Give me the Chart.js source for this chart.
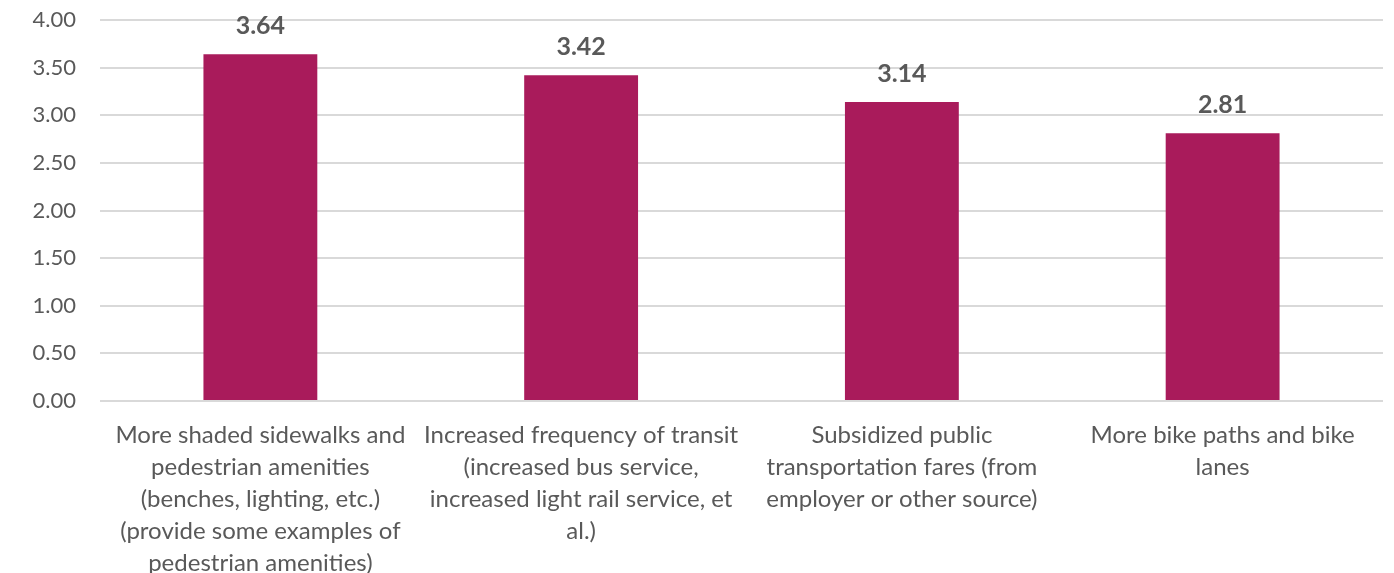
<!DOCTYPE html>
<html>
<head>
<meta charset="utf-8">
<script src="https://cdn.jsdelivr.net/npm/chart.js@4/dist/chart.umd.min.js"></script>
<style>
  html, body { margin: 0; padding: 0; background: #fff; }
  #wrap { width: 1394px; height: 573px; position: relative; }
</style>
</head>
<body>
<div id="wrap"><canvas id="c" width="1394" height="573"></canvas></div>
<script>
const categories = [
  ["More shaded sidewalks and", "pedestrian amenities", "(benches, lighting, etc.)", "(provide some examples of", "pedestrian amenities)"],
  ["Increased frequency of transit", "(increased bus service,", "increased light rail service, et", "al.)"],
  ["Subsidized public", "transportation fares (from", "employer or other source)"],
  ["More bike paths and bike", "lanes"]
];
const values = [3.64, 3.42, 3.14, 2.81];
const yTicks = [0, 0.5, 1, 1.5, 2, 2.5, 3, 3.5, 4];

const FONT = "Lato, 'Open Sans', sans-serif";
const TEXT = '#595959';

const valueLabels = {
  id: 'valueLabels',
  afterDatasetsDraw(chart) {
    const ctx = chart.ctx;
    const meta = chart.getDatasetMeta(0);
    ctx.save();
    ctx.font = 'bold 25px ' + FONT;
    ctx.fillStyle = TEXT;
    ctx.textAlign = 'center';
    ctx.textBaseline = 'middle';
    meta.data.forEach((bar, i) => {
      ctx.fillText(values[i].toFixed(2), bar.x, bar.y - 28);
    });
    ctx.restore();
  }
};

new Chart(document.getElementById('c'), {
  type: 'bar',
  data: {
    labels: categories,
    datasets: [{
      data: values,
      backgroundColor: '#A91B5B',
      barPercentage: 1,
      categoryPercentage: 0.355
    }]
  },
  options: {
    responsive: false,
    animation: false,
    layout: { padding: { top: 20, right: 11, bottom: 0, left: 0 } },
    plugins: { legend: { display: false }, tooltip: { enabled: false } },
    scales: {
      x: {
        grid: { display: false, drawTicks: false },
        border: { display: false },
        ticks: {
          color: TEXT,
          font: { family: FONT, size: 24, lineHeight: '32px' },
          padding: 18,
          maxRotation: 0,
          autoSkip: false
        },
        afterFit(scale) {
          scale.height = 172;
          scale.paddingLeft = 0; scale.paddingRight = 0;
          scale.paddingTop = 0; scale.paddingBottom = 0;
        }
      },
      y: {
        min: 0,
        max: 4,
        afterBuildTicks(scale) { scale.ticks = yTicks.map(v => ({ value: v })); },
        grid: { color: '#D9D9D9', lineWidth: 2, drawTicks: false },
        border: { display: false },
        ticks: {
          color: TEXT,
          font: { family: FONT, size: 22 },
          padding: 24,
          callback: v => Number(v).toFixed(2)
        },
        afterFit(scale) {
          scale.width = 100;
          scale.paddingTop = 0; scale.paddingBottom = 0;
          scale.paddingLeft = 0; scale.paddingRight = 0;
        }
      }
    }
  },
  plugins: [valueLabels]
});
</script>
</body>
</html>
